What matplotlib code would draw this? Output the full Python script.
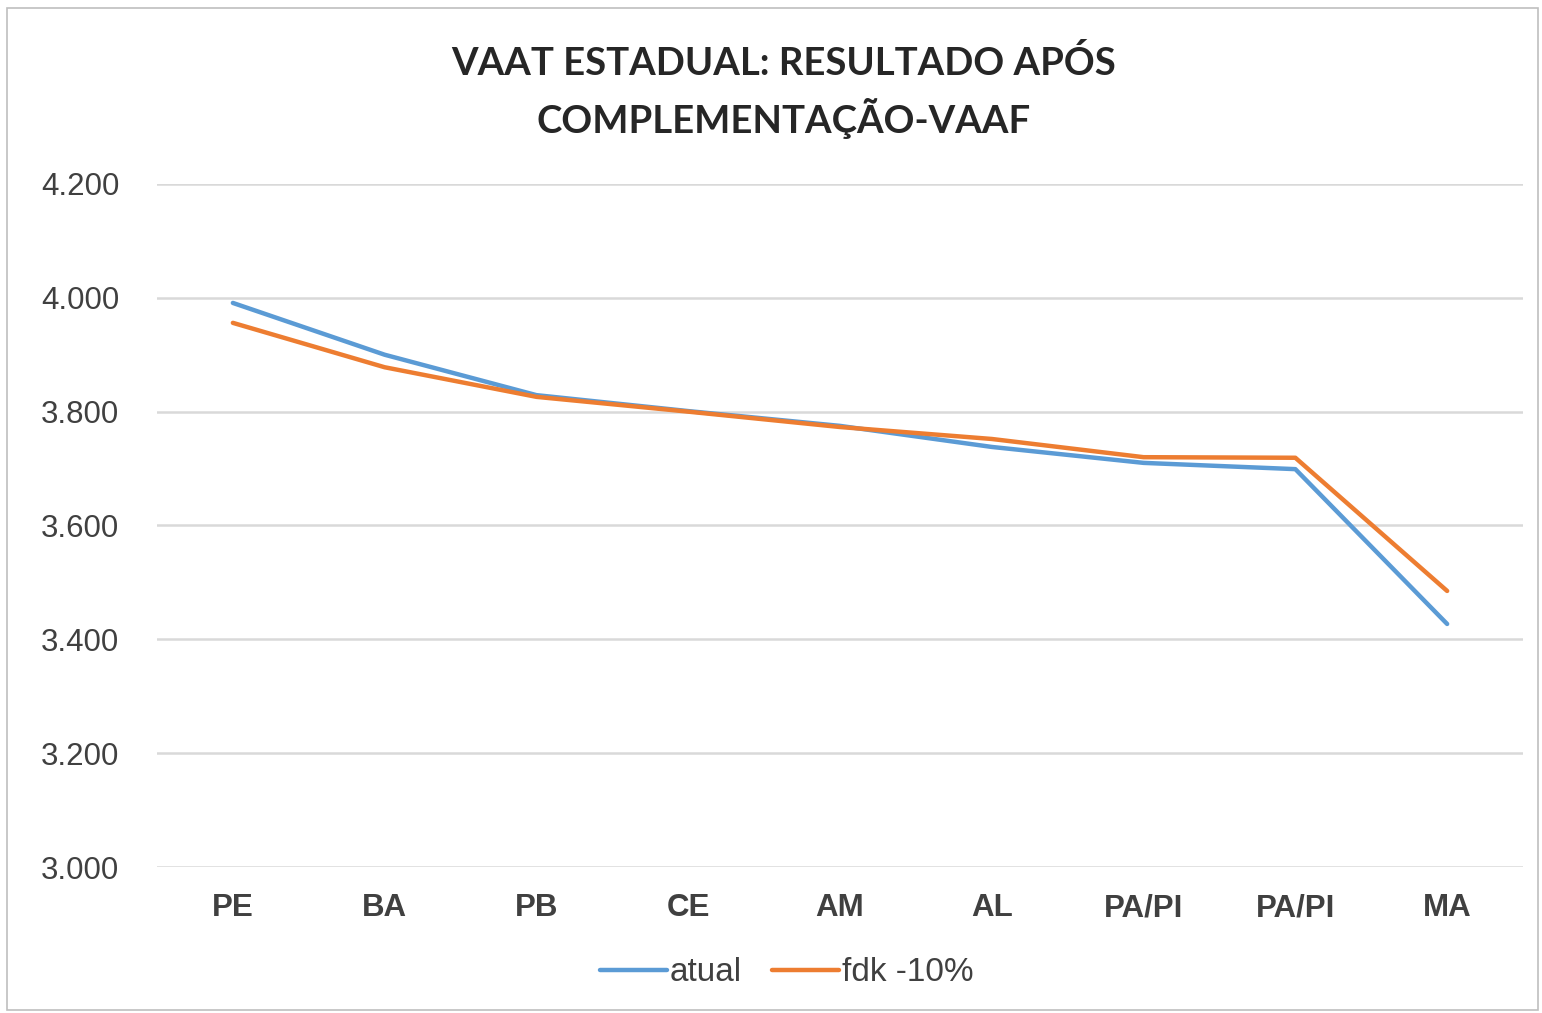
import numpy as np
import matplotlib.pyplot as plt
from matplotlib.ticker import FuncFormatter
from matplotlib.patches import Rectangle

# Dados
estados = ["PE", "BA", "PB", "CE", "AM", "AL", "PA/PI", "PA/PI", "MA"]
atual = [3991, 3900, 3829, 3801, 3775, 3738, 3710, 3699, 3427]
fdk_10 = [3956, 3878, 3826, 3800, 3773, 3752, 3720, 3719, 3485]

azul = "#5B9BD5"
laranja = "#ED7D31"

fig = plt.figure(figsize=(15.42, 10.13), dpi=100)
ax = fig.add_axes([0.1018, 0.1441, 0.8859, 0.6743])

x = np.arange(len(estados))
ax.plot(x, atual, color=azul, lw=3.2, label="atual", solid_capstyle="round")
ax.plot(x, fdk_10, color=laranja, lw=3.2, label="fdk -10%", solid_capstyle="round")

ax.set_xlim(-0.5, len(estados) - 0.5)
ax.set_ylim(3000, 4200)
ax.set_yticks(np.arange(3000, 4201, 200))
ax.yaxis.set_major_formatter(FuncFormatter(lambda v, p: "{:,.0f}".format(v).replace(",", ".")))
ax.set_xticks(x)
ax.set_xticklabels(estados, fontweight="bold")

for s in ax.spines.values():
    s.set_visible(False)
ax.grid(axis="y", color="#D9D9D9", lw=1.8)
ax.set_axisbelow(True)
ax.tick_params(length=0, labelsize=22.5, colors="#404040", labelfontfamily="Liberation Sans")
ax.tick_params(axis="x", pad=19)
ax.tick_params(axis="y", pad=27)

fig.text(0.508, 0.909, "VAAT ESTADUAL: RESULTADO APÓS\nCOMPLEMENTAÇÃO-VAAF",
         ha="center", va="center", fontsize=27.5, fontweight="bold",
         family="Lato", color="#262626", linespacing=1.5)

leg = ax.legend(loc="center", bbox_to_anchor=(0.461, -0.155), ncol=2, frameon=False,
                prop={"family": "Liberation Sans", "size": 24}, handlelength=2.0,
                handletextpad=0.1, columnspacing=0.9)
for t in leg.get_texts():
    t.set_color("#404040")

# moldura fina em volta do grafico
fig.patches.append(Rectangle((0.0045, 0.003), 0.993, 0.989, transform=fig.transFigure,
                             fill=False, edgecolor="#BFBFBF", lw=1.2))

fig.savefig("out.png", dpi=100)
